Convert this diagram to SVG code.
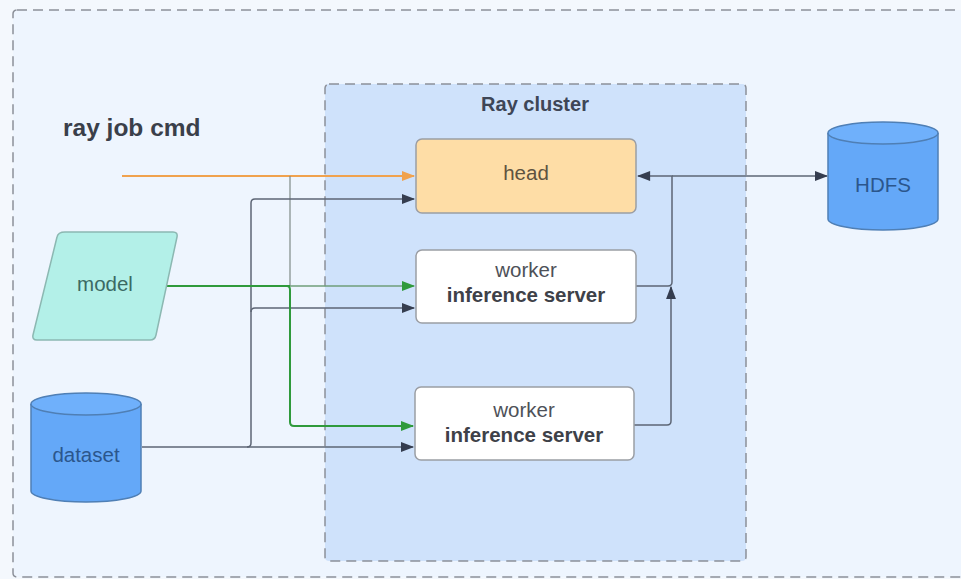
<svg xmlns="http://www.w3.org/2000/svg" width="961" height="579" viewBox="0 0 961 579">
  <style>
    .frame { stroke: #8c9099; stroke-width: 1.5; stroke-dasharray: 10 6; }
    .box { stroke: #9b9ea4; stroke-width: 1.5; }
    .lbl { font-family: "Liberation Sans", Arial, sans-serif; font-size: 20.5px; text-anchor: middle; }
    .bold { font-weight: bold; }
    .wire { fill: none; stroke: #5d6675; stroke-width: 1.5; }
    .cmd { fill: none; stroke: #f0a24e; stroke-width: 2; }
    .feed { fill: none; stroke: #2f9a3c; stroke-width: 2; }
  </style>
  <defs>
    <marker id="arrDark" viewBox="0 0 12 10" refX="11" refY="5" markerWidth="14" markerHeight="11" markerUnits="userSpaceOnUse" orient="auto">
      <path d="M0,0.5 L12,5 L0,9.5 z" fill="#353d4f"/>
    </marker>
    <marker id="arrOrange" viewBox="0 0 12 10" refX="11" refY="5" markerWidth="14" markerHeight="11" markerUnits="userSpaceOnUse" orient="auto">
      <path d="M0,0.5 L12,5 L0,9.5 z" fill="#f0a24e"/>
    </marker>
    <marker id="arrGreen" viewBox="0 0 12 10" refX="11" refY="5" markerWidth="14" markerHeight="11" markerUnits="userSpaceOnUse" orient="auto">
      <path d="M0,0.5 L12,5 L0,9.5 z" fill="#2f9a3c"/>
    </marker>
  </defs>

  <!-- page background -->
  <rect x="0" y="0" width="961" height="579" fill="#f4f8fd"/>

  <!-- outer environment frame -->
  <g id="environment">
    <rect class="frame" x="13" y="10" width="970" height="567" rx="4" fill="#eef5fe"/>
    <text class="lbl bold" x="63" y="136" fill="#3a3f4a" style="font-size:24.5px;text-anchor:start">ray job cmd</text>
  </g>

  <!-- Ray cluster frame -->
  <g id="ray-cluster">
    <rect class="frame" x="325" y="84" width="421" height="477" rx="4" fill="#cfe2fb"/>
    <text class="lbl bold" x="535" y="111" fill="#3e4656" style="font-size:20px">Ray cluster</text>
  </g>

  <!-- connectors -->
  <g id="connectors">
    <!-- job submission to head -->
    <path class="cmd" d="M122,176 H414" marker-end="url(#arrOrange)"/>
    <path d="M290,176 V286" fill="none" stroke="#7f8a86" stroke-width="1.2"/>
    <!-- dataset to head and workers -->
    <path class="wire" d="M142,447 H247 Q251,447 251,443 V203 Q251,199 255,199 H414" marker-end="url(#arrDark)"/>
    <path class="wire" d="M251,312 Q251,308 255,308 H414" marker-end="url(#arrDark)"/>
    <path class="wire" d="M247,447 H413" marker-end="url(#arrDark)"/>
    <!-- model to workers -->
    <path class="feed" d="M163,286 H290"/>
    <path d="M290,286 H414" fill="none" stroke="#6f9e7a" stroke-width="1.5" marker-end="url(#arrGreen)"/>
    <path class="feed" d="M287,286 Q290,286 290,290 V422 Q290,426 294,426 H413" marker-end="url(#arrGreen)"/>
    <!-- workers report to head -->
    <path class="wire" d="M636,286 H668 Q672,286 672,282 V176 H638" marker-end="url(#arrDark)"/>
    <path class="wire" d="M634,425 H667 Q671,425 671,421 V287" marker-end="url(#arrDark)"/>
    <!-- head <-> HDFS -->
    <path class="wire" d="M672,176 H827" marker-end="url(#arrDark)"/>
  </g>

  <!-- head node -->
  <g id="head">
    <rect class="box" x="416" y="139" width="220" height="74" rx="6" fill="#fedda6"/>
    <text class="lbl" x="526" y="180" fill="#5e5340">head</text>
  </g>

  <!-- worker nodes -->
  <g id="worker-1">
    <rect class="box" x="416" y="250" width="220" height="73" rx="6" fill="#ffffff"/>
    <text class="lbl" x="526" y="277" fill="#4e5158">worker</text>
    <text class="lbl bold" x="526" y="302" fill="#3e4148">inference server</text>
  </g>
  <g id="worker-2">
    <rect class="box" x="415" y="387" width="219" height="73" rx="6" fill="#ffffff"/>
    <text class="lbl" x="524" y="417" fill="#4e5158">worker</text>
    <text class="lbl bold" x="524" y="442" fill="#3e4148">inference server</text>
  </g>

  <!-- model input -->
  <g id="model">
    <path d="M65,232 H173 Q178,232 177,237 L156,335 Q155,340 150,340 H37 Q32,340 33,335 L57,237 Q58,232 65,232 Z" fill="#b3f0e8" stroke="#8cb8b2" stroke-width="1.5"/>
    <text class="lbl" x="105" y="291" fill="#3b6a64">model</text>
  </g>

  <!-- dataset store -->
  <g id="dataset">
    <path d="M31,404 V491 A55,11 0 0 0 141,491 V404" fill="#64a8f8" stroke="#4f7fb5" stroke-width="1.5"/>
    <ellipse cx="86" cy="404" rx="55" ry="11" fill="#6fb0fb" stroke="#4f7fb5" stroke-width="1.5"/>
    <text class="lbl" x="86" y="462" fill="#2b568c">dataset</text>
  </g>

  <!-- HDFS store -->
  <g id="hdfs">
    <path d="M828,133 V219 A55,11 0 0 0 938,219 V133" fill="#64a8f8" stroke="#4f7fb5" stroke-width="1.5"/>
    <ellipse cx="883" cy="133" rx="55" ry="11" fill="#6fb0fb" stroke="#4f7fb5" stroke-width="1.5"/>
    <text class="lbl" x="883" y="192" fill="#2b568c">HDFS</text>
  </g>
</svg>
